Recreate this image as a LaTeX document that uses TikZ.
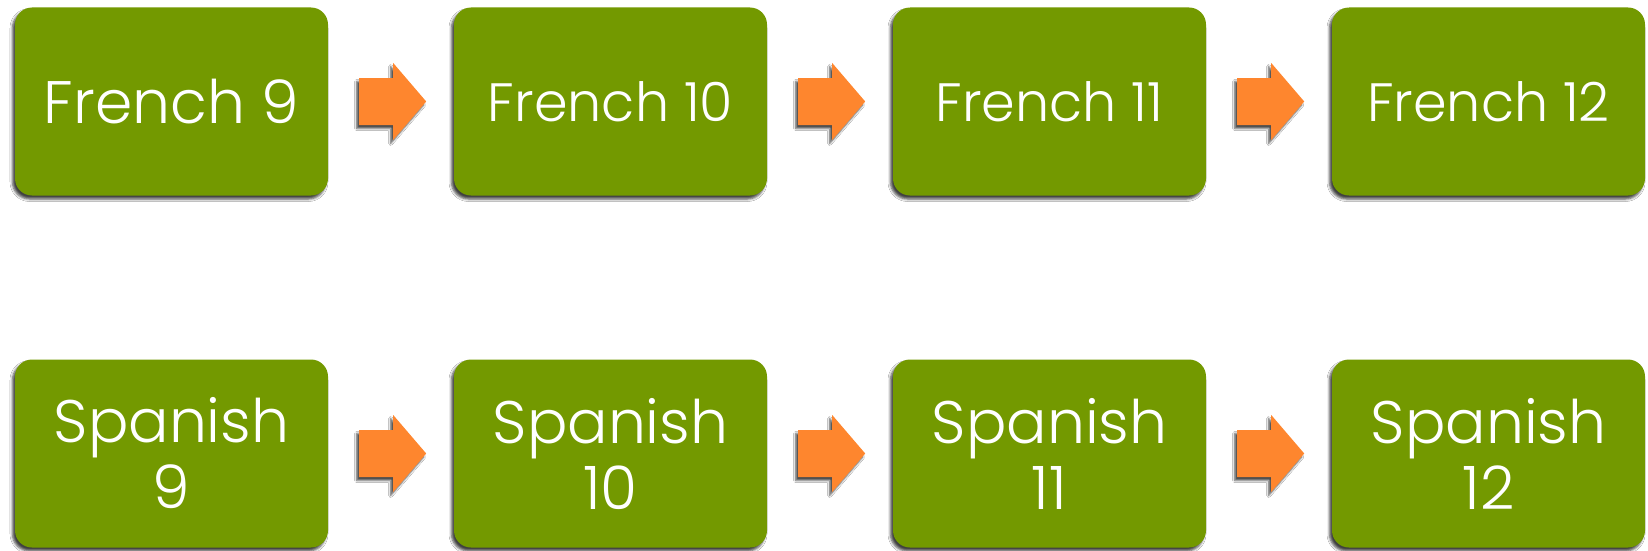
\documentclass[tikz,border=0pt]{standalone}
\usepackage{fontspec}
\setmainfont{Poppins}[UprightFont=* Light]
\usetikzlibrary{calc,shadows.blur}
\definecolor{boxgreen}{RGB}{115,153,0}
\definecolor{arroworange}{RGB}{254,134,46}
\tikzset{
  course/.style={rounded corners=17pt, fill=boxgreen, text=white,
    minimum width=313pt, minimum height=188pt, inner sep=0pt, align=center,
    blur shadow={shadow xshift=-2.5pt, shadow yshift=-3.5pt, shadow blur radius=2.5pt, shadow opacity=75}},
  bigtext/.style={font=\fontsize{60}{66}\selectfont},
  smalltext/.style={font=\fontsize{54}{60}\selectfont},
  blockarrow/.style={fill=arroworange,
    blur shadow={shadow xshift=-2.5pt, shadow yshift=-3.5pt, shadow blur radius=2pt, shadow opacity=70}}
}
\newcommand\courseflow[2]{%
  \fill[blockarrow] ($(#1.east)+(31,-23.5)$) -- ++(34,0) -- ++(0,-15) -- ++(33,38.5)
    -- ++(-33,38.5) -- ++(0,-15) -- ++(-34,0) -- cycle;}
\begin{document}
\begin{tikzpicture}[x=1pt,y=-1pt]
\useasboundingbox[fill=white] (0,0) rectangle (1648,551);
\node[course,bigtext]   (f1) at (171.5,101.5) {French 9};
\node[course,smalltext] (f2) at (610.5,101.5) {French 10};
\node[course,smalltext] (f3) at (1049.5,101.5) {French 11};
\node[course,smalltext] (f4) at (1488.5,101.5) {French 12};
\node[course,bigtext]   (s1) at (171.5,453.5) {Spanish\\9};
\node[course,bigtext]   (s2) at (610.5,453.5) {Spanish\\10};
\node[course,bigtext]   (s3) at (1049.5,453.5) {Spanish\\11};
\node[course,bigtext]   (s4) at (1488.5,453.5) {Spanish\\12};
\courseflow{f1}{f2}
\courseflow{f2}{f3}
\courseflow{f3}{f4}
\courseflow{s1}{s2}
\courseflow{s2}{s3}
\courseflow{s3}{s4}
\end{tikzpicture}
\end{document}
